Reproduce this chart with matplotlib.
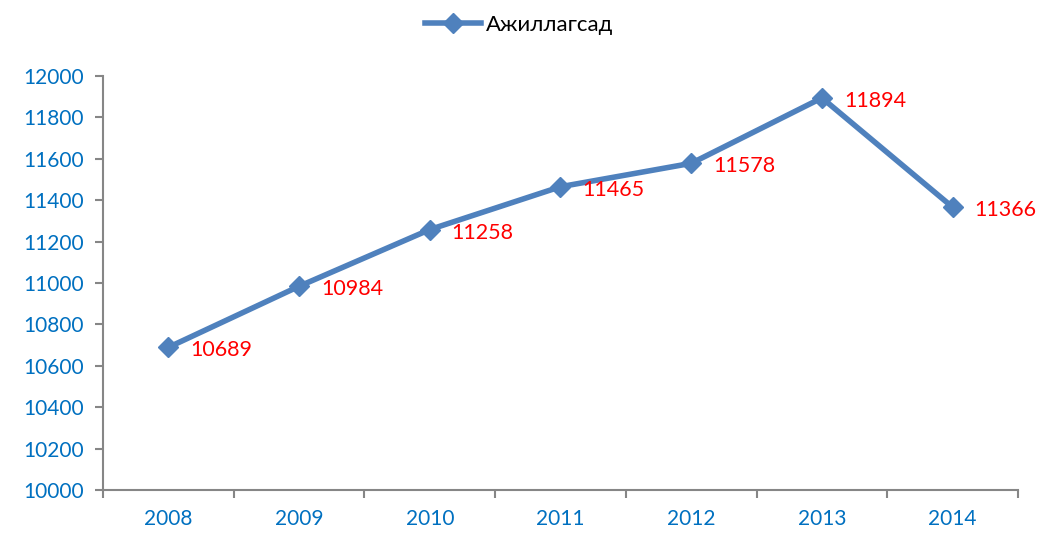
import numpy as np
import matplotlib.pyplot as plt

plt.rcParams['font.family'] = ['Lato', 'DejaVu Sans']

years = ['2008', '2009', '2010', '2011', '2012', '2013', '2014']
values = [10689, 10984, 11258, 11465, 11578, 11894, 11366]
series_name = 'Ажиллагсад'

line_color = '#4F81BD'
axis_color = '#868686'
tick_color = '#0070C0'

fig = plt.figure(figsize=(10.39, 5.35), dpi=100)
ax = fig.add_axes([0.0991, 0.0841, 0.8807, 0.7739])

x = np.arange(len(years))
ax.plot(x, values, color=line_color, lw=4, marker='D', ms=10,
        label=series_name, solid_joinstyle='round')

for xi, v in zip(x, values):
    ax.annotate(str(v), (xi, v), xytext=(22, -3), textcoords='offset pixels',
                ha='left', va='center', color='red', fontsize=15.5)

ax.set_xlim(-0.5, len(years) - 0.5)
ax.set_ylim(10000, 12000)
ax.set_yticks(np.arange(10000, 12001, 200))
ax.set_xticks(x)
ax.set_xticklabels(years)
ax.set_xticks(np.arange(-0.5, len(years)), minor=True)
ax.tick_params(axis='x', which='major', length=0, pad=14, labelcolor=tick_color, labelsize=15)
ax.tick_params(axis='x', which='minor', length=6, width=1.5, color=axis_color)
ax.tick_params(axis='y', length=6, width=1.5, color=axis_color, labelcolor=tick_color,
               labelsize=15, pad=8)

for s in ['top', 'right']:
    ax.spines[s].set_visible(False)
for s in ['left', 'bottom']:
    ax.spines[s].set_color(axis_color)
    ax.spines[s].set_linewidth(1.5)

fig.legend(loc='upper center', bbox_to_anchor=(0.5, 1.01), frameon=False,
           fontsize=16, handlelength=2.5, handletextpad=0.25, labelcolor='black')

fig.savefig('out.png', dpi=100)
